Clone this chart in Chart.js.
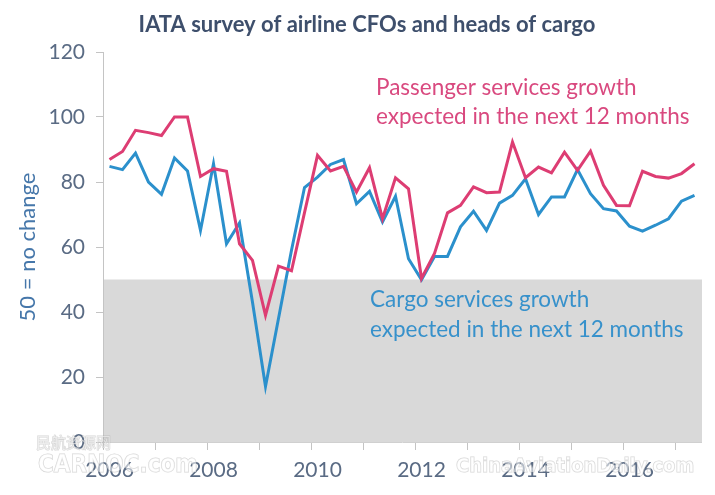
<!DOCTYPE html>
<html>
<head>
<meta charset="utf-8">
<script src="https://cdn.jsdelivr.net/npm/chart.js@4"></script>
<style>
  body { margin: 0; background: #fff; }
  canvas { display: block; }
</style>
</head>
<body>
<canvas id="cfoChart" width="715" height="495"></canvas>
<script>
// quarterly survey, 2006 Q1 .. 2017 Q2
const categories = [
  "2006Q1","2006Q2","2006Q3","2006Q4","2007Q1","2007Q2","2007Q3","2007Q4",
  "2008Q1","2008Q2","2008Q3","2008Q4","2009Q1","2009Q2","2009Q3","2009Q4",
  "2010Q1","2010Q2","2010Q3","2010Q4","2011Q1","2011Q2","2011Q3","2011Q4",
  "2012Q1","2012Q2","2012Q3","2012Q4","2013Q1","2013Q2","2013Q3","2013Q4",
  "2014Q1","2014Q2","2014Q3","2014Q4","2015Q1","2015Q2","2015Q3","2015Q4",
  "2016Q1","2016Q2","2016Q3","2016Q4","2017Q1","2017Q2"
];
const tickYears = ["2006", "2008", "2010", "2012", "2014", "2016"];

const passenger = [
  86.9, 89.4, 95.9, 95.2, 94.3, 100, 100, 81.7, 84.1, 83.3, 61.0, 55.9,
  39.0, 54.1, 52.7, 70.6, 88.2, 83.4, 84.8, 76.9, 84.4, 68.7, 81.3, 77.9,
  50.3, 58.0, 70.5, 72.8, 78.5, 76.7, 76.9, 92.3, 81.3, 84.6, 82.8, 89.2,
  83.6, 89.5, 79.0, 72.8, 72.7, 83.3, 81.7, 81.2, 82.6, 85.6
];
const cargo = [
  84.8, 83.8, 88.9, 80.0, 76.2, 87.4, 83.4, 65.1, 85.6, 61.0, 67.4, 43.0,
  17.1, 38.0, 59.0, 78.3, 81.5, 85.4, 86.9, 73.3, 77.1, 67.7, 75.6, 56.4,
  49.9, 57.1, 57.1, 66.2, 71.0, 65.1, 73.5, 75.9, 81.0, 70.0, 75.4, 75.4,
  83.8, 76.4, 71.8, 71.1, 66.4, 64.9, 66.7, 68.7, 74.1, 75.9
];
const noChangeLevel = 50;

const pinkLine = "#dd3d73";
const blueLine = "#2b90cc";
const tickText = "#5a6b84";
const FONT = "Lato, 'Open Sans', sans-serif";

// grey band below the "no change" level
const bandPlugin = {
  id: "band",
  beforeDraw(chart) {
    const { ctx, chartArea, scales } = chart;
    const top = scales.y.getPixelForValue(noChangeLevel);
    const bottom = scales.y.getPixelForValue(0);
    ctx.save();
    ctx.fillStyle = "#d9d9d9";
    ctx.fillRect(chartArea.left, top, chartArea.right - chartArea.left + 1, bottom - top);
    ctx.restore();
  }
};

// title, series notes and the site watermarks
const textPlugin = {
  id: "notes",
  afterDraw(chart) {
    const ctx = chart.ctx;
    ctx.save();
    ctx.textBaseline = "middle";

    ctx.fillStyle = "#3e4f6c";
    ctx.font = "bold 22px " + FONT;
    ctx.textAlign = "center";
    ctx.fillText("IATA survey of airline CFOs and heads of cargo", 367, 25);

    ctx.textAlign = "left";
    ctx.font = "22.5px " + FONT;
    ctx.fillStyle = "#d9497f";
    ctx.fillText("Passenger services growth", 376, 88);
    ctx.fillText("expected in the next 12 months", 376, 117);
    ctx.fillStyle = "#3791cb";
    ctx.fillText("Cargo services growth", 370, 300);
    ctx.fillText("expected in the next 12 months", 370, 330);

    ctx.fillStyle = "rgba(255,255,255,0.55)";
    ctx.strokeStyle = "rgba(150,150,150,0.4)";
    ctx.lineWidth = 1;
    ctx.font = "15px 'Noto Sans CJK SC'";
    ctx.strokeText("民航资源网", 36, 442);
    ctx.fillText("民航资源网", 36, 442);
    ctx.font = "bold 24px 'DejaVu Sans Condensed', sans-serif";
    ctx.strokeText("CARNOC.com", 38, 466);
    ctx.fillText("CARNOC.com", 38, 466);
    ctx.font = "bold 20px 'DejaVu Sans Condensed', sans-serif";
    ctx.strokeText("ChinaAviationDaily.com", 456, 467);
    ctx.fillText("ChinaAviationDaily.com", 456, 467);
    ctx.restore();
  }
};

new Chart(document.getElementById("cfoChart"), {
  type: "line",
  data: {
    labels: categories,
    datasets: [
      { label: "Passenger", data: passenger, borderColor: pinkLine, borderWidth: 3, pointRadius: 0, tension: 0 },
      { label: "Cargo", data: cargo, borderColor: blueLine, borderWidth: 3, pointRadius: 0, tension: 0 }
    ]
  },
  options: {
    responsive: false,
    animation: false,
    devicePixelRatio: 1,
    layout: { padding: { top: 52, right: 14, bottom: 0, left: 0 } },
    plugins: { legend: { display: false }, tooltip: { enabled: false } },
    scales: {
      x: {
        offset: true,
        grid: {
          offset: true,
          drawOnChartArea: false,
          tickLength: 8,
          color: c => (c.index % 4 === 0 ? "#c4c4c4" : "rgba(0,0,0,0)")
        },
        border: { color: "#d0d0d0" },
        ticks: {
          autoSkip: false,
          maxRotation: 0,
          padding: 8,
          color: tickText,
          font: { family: FONT, size: 21 },
          callback: function (v, i) {
            const cat = categories[i];
            const yr = cat.slice(0, 4);
            return cat.endsWith("Q1") && tickYears.includes(yr) ? yr : "";
          }
        },
        afterFit: s => { s.height = 53; }
      },
      y: {
        min: 0,
        max: 120,
        ticks: { stepSize: 20, padding: 11, color: tickText, font: { family: FONT, size: 21 } },
        grid: { drawOnChartArea: false, tickLength: 7, color: "#c4c4c4" },
        border: { color: "#c4c4c4" },
        title: {
          display: true,
          text: "50 = no change",
          color: "#4677aa",
          font: { family: FONT, size: 22 },
          padding: { top: 15, bottom: 0 }
        },
        afterFit: s => { s.width = 103; }
      }
    }
  },
  plugins: [bandPlugin, textPlugin]
});
</script>
</body>
</html>
